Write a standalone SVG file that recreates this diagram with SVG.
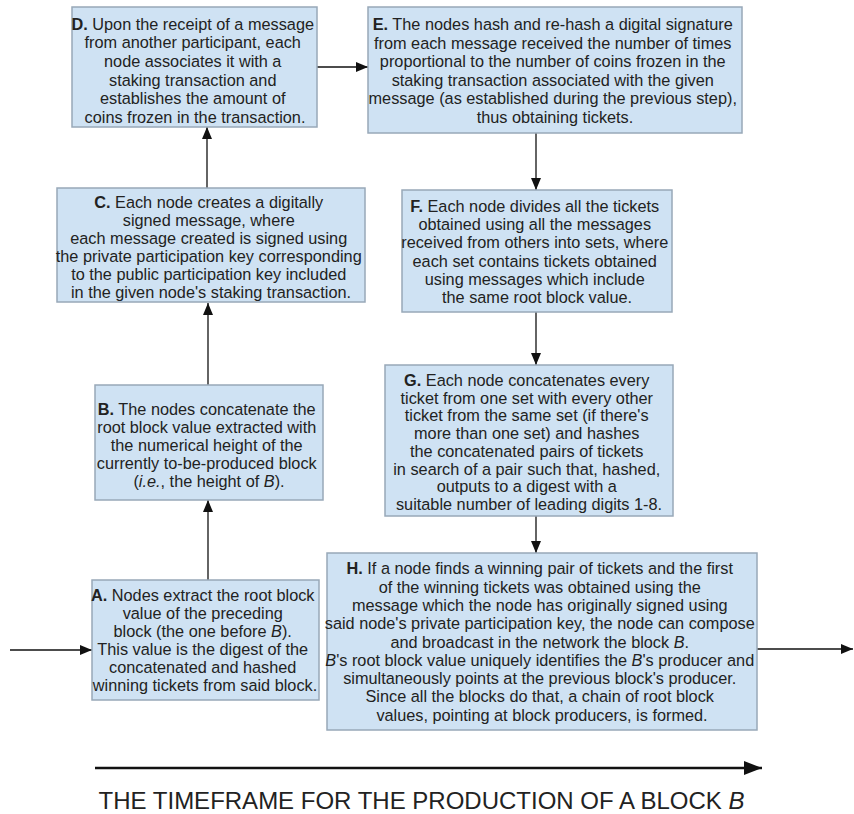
<svg xmlns="http://www.w3.org/2000/svg" width="854" height="814" viewBox="0 0 854 814">
<style>
.box{fill:#cfe2f3;stroke:#98a8b8;stroke-width:1.5}
.t{font-family:"Liberation Sans",Arial,sans-serif;font-size:16.3px;fill:#222;text-anchor:middle}
.b{font-weight:bold}
.i{font-style:italic}
.c{stroke:#111;stroke-width:1.3;fill:none}
.title{font-family:"Liberation Sans",Arial,sans-serif;font-size:24px;fill:#222;text-anchor:middle}
</style>
<defs>
<marker id="ah" markerUnits="userSpaceOnUse" markerWidth="12" markerHeight="10" refX="12" refY="5" orient="auto">
<path d="M0,0 L12,5 L0,10 z" fill="#111"/>
</marker>
<marker id="ahL" markerUnits="userSpaceOnUse" markerWidth="18" markerHeight="14" refX="18" refY="7" orient="auto">
<path d="M0,0 L18,7 L0,14 z" fill="#111"/>
</marker>
</defs>
<rect width="854" height="814" fill="#fff"/>
<g id="connectors">
<line class="c" x1="10" y1="650" x2="92" y2="650" marker-end="url(#ah)"/>
<line class="c" x1="757" y1="649" x2="853" y2="649" marker-end="url(#ah)"/>
<line class="c" x1="208" y1="580" x2="208" y2="500" marker-end="url(#ah)"/>
<line class="c" x1="208" y1="385" x2="208" y2="303" marker-end="url(#ah)"/>
<line class="c" x1="207" y1="188" x2="207" y2="127" marker-end="url(#ah)"/>
<line class="c" x1="317" y1="67" x2="368" y2="67" marker-end="url(#ah)"/>
<line class="c" x1="536" y1="133" x2="536" y2="190" marker-end="url(#ah)"/>
<line class="c" x1="536" y1="312" x2="536" y2="365" marker-end="url(#ah)"/>
<line class="c" x1="536" y1="516" x2="536" y2="553" marker-end="url(#ah)"/>
<line x1="95" y1="768" x2="762" y2="768" stroke="#111" stroke-width="2.6" marker-end="url(#ahL)"/>
</g>
<g id="nodeD">
<rect class="box" x="72" y="7" width="245" height="120"/>
<text class="t">
<tspan x="195" y="29.5"><tspan class="b">D.</tspan> Upon the receipt of a message</tspan>
<tspan x="195" y="48.2">from another participant, each</tspan>
<tspan x="195" y="66.9">node associates it with a</tspan>
<tspan x="195" y="85.6">staking transaction and</tspan>
<tspan x="195" y="104.3">establishes the amount of</tspan>
<tspan x="195" y="123">coins frozen in the transaction.</tspan>
</text>
</g>
<g id="nodeE">
<rect class="box" x="368" y="7" width="374" height="126"/>
<text class="t">
<tspan x="555" y="30"><tspan class="b">E.</tspan> The nodes hash and re-hash a digital signature</tspan>
<tspan x="555" y="48.6">from each message received the number of times</tspan>
<tspan x="555" y="67.2">proportional to the number of coins frozen in the</tspan>
<tspan x="555" y="85.8">staking transaction associated with the given</tspan>
<tspan x="555" y="104.4">message (as established during the previous step),</tspan>
<tspan x="555" y="123">thus obtaining tickets.</tspan>
</text>
</g>
<g id="nodeC">
<rect class="box" x="57" y="188" width="308" height="114"/>
<text class="t">
<tspan x="211" y="208"><tspan class="b">C.</tspan> Each node creates a digitally</tspan>
<tspan x="211" y="226">signed message, where</tspan>
<tspan x="211" y="244">each message created is signed using</tspan>
<tspan x="211" y="262">the private participation key corresponding</tspan>
<tspan x="211" y="280">to the public participation key included</tspan>
<tspan x="211" y="298">in the given node's staking transaction.</tspan>
</text>
</g>
<g id="nodeF">
<rect class="box" x="402" y="190" width="270" height="122"/>
<text class="t">
<tspan x="537" y="211.7"><tspan class="b">F.</tspan> Each node divides all the tickets</tspan>
<tspan x="537" y="230">obtained using all the messages</tspan>
<tspan x="537" y="248.3">received from others into sets, where</tspan>
<tspan x="537" y="266.6">each set contains tickets obtained</tspan>
<tspan x="537" y="284.9">using messages which include</tspan>
<tspan x="537" y="303.2">the same root block value.</tspan>
</text>
</g>
<g id="nodeB">
<rect class="box" x="95" y="385" width="228" height="115"/>
<text class="t">
<tspan x="209" y="415"><tspan class="b">B.</tspan> The nodes concatenate the</tspan>
<tspan x="209" y="433">root block value extracted with</tspan>
<tspan x="209" y="451">the numerical height of the</tspan>
<tspan x="209" y="469">currently to-be-produced block</tspan>
<tspan x="209" y="487">(<tspan class="i">i.e.</tspan>, the height of <tspan class="i">B</tspan>).</tspan>
</text>
</g>
<g id="nodeG">
<rect class="box" x="385" y="365" width="288" height="151"/>
<text class="t">
<tspan x="529" y="386"><tspan class="b">G.</tspan> Each node concatenates every</tspan>
<tspan x="529" y="403.7">ticket from one set with every other</tspan>
<tspan x="529" y="421.4">ticket from the same set (if there's</tspan>
<tspan x="529" y="439.1">more than one set) and hashes</tspan>
<tspan x="529" y="456.8">the concatenated pairs of tickets</tspan>
<tspan x="529" y="474.5">in search of a pair such that, hashed,</tspan>
<tspan x="529" y="492.2">outputs to a digest with a</tspan>
<tspan x="529" y="509.9">suitable number of leading digits 1-8.</tspan>
</text>
</g>
<g id="nodeA">
<rect class="box" x="92" y="580" width="227" height="120"/>
<text class="t">
<tspan x="205" y="600.5"><tspan class="b">A.</tspan> Nodes extract the root block</tspan>
<tspan x="205" y="618.5">value of the preceding</tspan>
<tspan x="205" y="636.5">block (the one before <tspan class="i">B</tspan>).</tspan>
<tspan x="205" y="654.5">This value is the digest of the</tspan>
<tspan x="205" y="672.5">concatenated and hashed</tspan>
<tspan x="205" y="690.5">winning tickets from said block.</tspan>
</text>
</g>
<g id="nodeH">
<rect class="box" x="327" y="553" width="430" height="177"/>
<text class="t">
<tspan x="542" y="574.3"><tspan class="b">H.</tspan> If a node finds a winning pair of tickets and the first</tspan>
<tspan x="542" y="592.6">of the winning tickets was obtained using the</tspan>
<tspan x="542" y="610.9">message which the node has originally signed using</tspan>
<tspan x="542" y="629.2">said node's private participation key, the node can compose</tspan>
<tspan x="542" y="647.5">and broadcast in the network the block <tspan class="i">B</tspan>.</tspan>
<tspan x="542" y="665.8"><tspan class="i">B</tspan>'s root block value uniquely identifies the <tspan class="i">B</tspan>'s producer and</tspan>
<tspan x="542" y="684.1">simultaneously points at the previous block's producer.</tspan>
<tspan x="542" y="702.4">Since all the blocks do that, a chain of root block</tspan>
<tspan x="542" y="720.7">values, pointing at block producers, is formed.</tspan>
</text>
</g>
<g id="title">
<text class="title" x="421.5" y="809">THE TIMEFRAME FOR THE PRODUCTION OF A BLOCK <tspan font-style="italic">B</tspan></text>
</g>
</svg>
